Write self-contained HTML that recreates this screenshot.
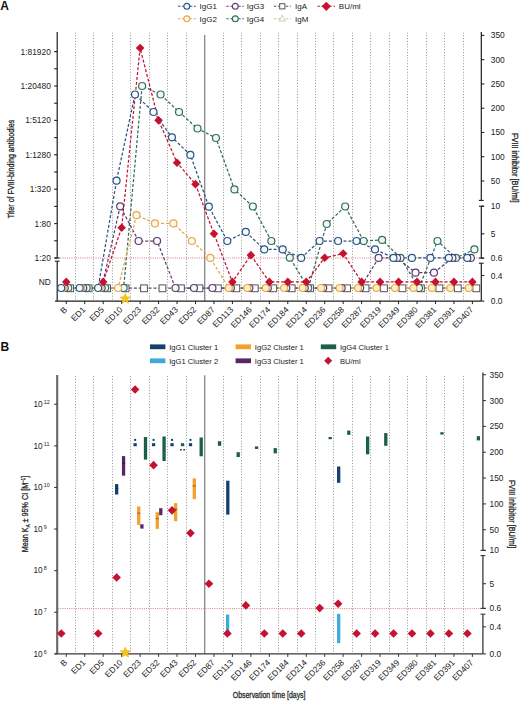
<!DOCTYPE html>
<html><head><meta charset="utf-8"><style>
html,body{margin:0;padding:0;background:#fff;}
body{width:520px;height:701px;overflow:hidden;}
svg{display:block;}
text{font-family:"Liberation Sans", sans-serif;}
</style></head><body>
<svg width="520" height="701" viewBox="0 0 520 701" font-family="Liberation Sans, sans-serif">
<rect width="520" height="701" fill="#fff"/>
<text x="0.30" y="10.30" font-size="12" text-anchor="start" fill="#111" font-weight="bold" >A</text>
<line x1="178.00" y1="6.30" x2="195.80" y2="6.30" stroke="#2b5480" stroke-width="1.1" stroke-dasharray="2.4,1.6" />
<circle cx="186.80" cy="6.30" r="2.95" fill="#f3f9fd" stroke="#2b5480" stroke-width="1.1"/>
<text x="199.50" y="9.20" font-size="8.0" text-anchor="start" fill="#222" >IgG1</text>
<line x1="178.00" y1="18.80" x2="195.80" y2="18.80" stroke="#e4a850" stroke-width="1.1" stroke-dasharray="2.4,1.6" />
<circle cx="186.80" cy="18.80" r="2.95" fill="#fff8ea" stroke="#e4a850" stroke-width="1.1"/>
<text x="199.50" y="21.70" font-size="8.0" text-anchor="start" fill="#222" >IgG2</text>
<line x1="226.30" y1="6.30" x2="243.80" y2="6.30" stroke="#5b3d70" stroke-width="1.1" stroke-dasharray="2.4,1.6" />
<circle cx="235.30" cy="6.30" r="2.95" fill="#fcf6fb" stroke="#5b3d70" stroke-width="1.1"/>
<text x="246.80" y="9.20" font-size="8.0" text-anchor="start" fill="#222" >IgG3</text>
<line x1="226.30" y1="18.80" x2="243.80" y2="18.80" stroke="#346b5c" stroke-width="1.1" stroke-dasharray="2.4,1.6" />
<circle cx="235.30" cy="18.80" r="2.95" fill="#eef9f4" stroke="#346b5c" stroke-width="1.1"/>
<text x="246.80" y="21.70" font-size="8.0" text-anchor="start" fill="#222" >IgG4</text>
<line x1="273.80" y1="6.30" x2="290.80" y2="6.30" stroke="#555555" stroke-width="1.1" stroke-dasharray="2.4,1.6" />
<rect x="279.70" y="3.70" width="5.2" height="5.2" fill="#fff" stroke="#555555" stroke-width="1.0"/>
<text x="295.00" y="9.20" font-size="8.0" text-anchor="start" fill="#222" >IgA</text>
<line x1="273.80" y1="18.80" x2="290.80" y2="18.80" stroke="#c8c896" stroke-width="1.1" stroke-dasharray="2.4,1.6" />
<polygon points="282.30,15.29 285.55,20.95 279.05,20.95" fill="#fff" stroke="#c8c896" stroke-width="0.9"/>
<text x="295.00" y="21.70" font-size="8.0" text-anchor="start" fill="#222" >IgM</text>
<line x1="317.50" y1="6.30" x2="335.00" y2="6.30" stroke="#c4122f" stroke-width="1.1" stroke-dasharray="2.4,1.6" />
<polygon points="326.30,1.70 330.90,6.30 326.30,10.90 321.70,6.30" fill="#c4122f"/>
<text x="338.80" y="9.20" font-size="8.0" text-anchor="start" fill="#222" >BU/ml</text>
<line x1="75.50" y1="32.50" x2="75.50" y2="301.10" stroke="#969696" stroke-width="1.0" stroke-dasharray="1,1.8" />
<line x1="93.50" y1="32.50" x2="93.50" y2="301.10" stroke="#969696" stroke-width="1.0" stroke-dasharray="1,1.8" />
<line x1="112.50" y1="32.50" x2="112.50" y2="301.10" stroke="#969696" stroke-width="1.0" stroke-dasharray="1,1.8" />
<line x1="130.50" y1="32.50" x2="130.50" y2="301.10" stroke="#969696" stroke-width="1.0" stroke-dasharray="1,1.8" />
<line x1="149.50" y1="32.50" x2="149.50" y2="301.10" stroke="#969696" stroke-width="1.0" stroke-dasharray="1,1.8" />
<line x1="167.50" y1="32.50" x2="167.50" y2="301.10" stroke="#969696" stroke-width="1.0" stroke-dasharray="1,1.8" />
<line x1="186.50" y1="32.50" x2="186.50" y2="301.10" stroke="#969696" stroke-width="1.0" stroke-dasharray="1,1.8" />
<line x1="204.72" y1="35.00" x2="204.72" y2="301.10" stroke="#7c7c7c" stroke-width="1.2" />
<line x1="223.50" y1="32.50" x2="223.50" y2="301.10" stroke="#969696" stroke-width="1.0" stroke-dasharray="1,1.8" />
<line x1="241.50" y1="32.50" x2="241.50" y2="301.10" stroke="#969696" stroke-width="1.0" stroke-dasharray="1,1.8" />
<line x1="260.50" y1="32.50" x2="260.50" y2="301.10" stroke="#969696" stroke-width="1.0" stroke-dasharray="1,1.8" />
<line x1="278.50" y1="32.50" x2="278.50" y2="301.10" stroke="#969696" stroke-width="1.0" stroke-dasharray="1,1.8" />
<line x1="297.50" y1="32.50" x2="297.50" y2="301.10" stroke="#969696" stroke-width="1.0" stroke-dasharray="1,1.8" />
<line x1="315.50" y1="32.50" x2="315.50" y2="301.10" stroke="#969696" stroke-width="1.0" stroke-dasharray="1,1.8" />
<line x1="333.50" y1="32.50" x2="333.50" y2="301.10" stroke="#969696" stroke-width="1.0" stroke-dasharray="1,1.8" />
<line x1="352.50" y1="32.50" x2="352.50" y2="301.10" stroke="#969696" stroke-width="1.0" stroke-dasharray="1,1.8" />
<line x1="370.50" y1="32.50" x2="370.50" y2="301.10" stroke="#969696" stroke-width="1.0" stroke-dasharray="1,1.8" />
<line x1="389.50" y1="32.50" x2="389.50" y2="301.10" stroke="#969696" stroke-width="1.0" stroke-dasharray="1,1.8" />
<line x1="407.50" y1="32.50" x2="407.50" y2="301.10" stroke="#969696" stroke-width="1.0" stroke-dasharray="1,1.8" />
<line x1="426.50" y1="32.50" x2="426.50" y2="301.10" stroke="#969696" stroke-width="1.0" stroke-dasharray="1,1.8" />
<line x1="444.50" y1="32.50" x2="444.50" y2="301.10" stroke="#969696" stroke-width="1.0" stroke-dasharray="1,1.8" />
<line x1="463.50" y1="32.50" x2="463.50" y2="301.10" stroke="#969696" stroke-width="1.0" stroke-dasharray="1,1.8" />
<line x1="58.20" y1="258.00" x2="481.30" y2="258.00" stroke="#dc6a7e" stroke-width="1.0" stroke-dasharray="0.9,1.3" />
<line x1="57.20" y1="32.00" x2="57.20" y2="258.00" stroke="#1e1e1e" stroke-width="1.2" />
<line x1="57.20" y1="261.20" x2="57.20" y2="301.10" stroke="#1e1e1e" stroke-width="1.2" />
<line x1="54.80" y1="258.00" x2="59.60" y2="258.00" stroke="#1e1e1e" stroke-width="1.1" />
<line x1="54.80" y1="261.20" x2="59.60" y2="261.20" stroke="#1e1e1e" stroke-width="1.1" />
<line x1="54.20" y1="258.00" x2="57.20" y2="258.00" stroke="#1e1e1e" stroke-width="1.1" />
<line x1="54.20" y1="240.80" x2="57.20" y2="240.80" stroke="#1e1e1e" stroke-width="1.1" />
<line x1="54.20" y1="223.60" x2="57.20" y2="223.60" stroke="#1e1e1e" stroke-width="1.1" />
<line x1="54.20" y1="206.40" x2="57.20" y2="206.40" stroke="#1e1e1e" stroke-width="1.1" />
<line x1="54.20" y1="189.20" x2="57.20" y2="189.20" stroke="#1e1e1e" stroke-width="1.1" />
<line x1="54.20" y1="172.00" x2="57.20" y2="172.00" stroke="#1e1e1e" stroke-width="1.1" />
<line x1="54.20" y1="154.80" x2="57.20" y2="154.80" stroke="#1e1e1e" stroke-width="1.1" />
<line x1="54.20" y1="137.60" x2="57.20" y2="137.60" stroke="#1e1e1e" stroke-width="1.1" />
<line x1="54.20" y1="120.40" x2="57.20" y2="120.40" stroke="#1e1e1e" stroke-width="1.1" />
<line x1="54.20" y1="103.20" x2="57.20" y2="103.20" stroke="#1e1e1e" stroke-width="1.1" />
<line x1="54.20" y1="86.00" x2="57.20" y2="86.00" stroke="#1e1e1e" stroke-width="1.1" />
<line x1="54.20" y1="68.80" x2="57.20" y2="68.80" stroke="#1e1e1e" stroke-width="1.1" />
<line x1="54.20" y1="51.60" x2="57.20" y2="51.60" stroke="#1e1e1e" stroke-width="1.1" />
<text x="50.80" y="54.60" font-size="8.4" text-anchor="end" fill="#222" >1:81920</text>
<text x="50.80" y="89.00" font-size="8.4" text-anchor="end" fill="#222" >1:20480</text>
<text x="50.80" y="123.40" font-size="8.4" text-anchor="end" fill="#222" >1:5120</text>
<text x="50.80" y="157.80" font-size="8.4" text-anchor="end" fill="#222" >1:1280</text>
<text x="50.80" y="192.20" font-size="8.4" text-anchor="end" fill="#222" >1:320</text>
<text x="50.80" y="226.60" font-size="8.4" text-anchor="end" fill="#222" >1:80</text>
<text x="50.80" y="261.00" font-size="8.4" text-anchor="end" fill="#222" >1:20</text>
<text x="50.80" y="285.00" font-size="8.4" text-anchor="end" fill="#222" >ND</text>
<text x="0" y="0" font-size="9" text-anchor="middle" fill="#222" transform="translate(13.6 169) rotate(-90)" textLength="98.6" lengthAdjust="spacingAndGlyphs" stroke="#2a2a2a" stroke-width="0.3">Titer of FVIII-binding antibodies</text>
<line x1="481.30" y1="32.00" x2="481.30" y2="200.40" stroke="#1e1e1e" stroke-width="1.2" />
<line x1="481.30" y1="206.20" x2="481.30" y2="258.10" stroke="#1e1e1e" stroke-width="1.2" />
<line x1="481.30" y1="263.20" x2="481.30" y2="301.10" stroke="#1e1e1e" stroke-width="1.2" />
<line x1="478.90" y1="200.40" x2="483.70" y2="200.40" stroke="#1e1e1e" stroke-width="1.1" />
<line x1="478.90" y1="206.20" x2="483.70" y2="206.20" stroke="#1e1e1e" stroke-width="1.1" />
<line x1="478.90" y1="258.10" x2="483.70" y2="258.10" stroke="#1e1e1e" stroke-width="1.1" />
<line x1="478.90" y1="263.20" x2="483.70" y2="263.20" stroke="#1e1e1e" stroke-width="1.1" />
<line x1="481.30" y1="35.40" x2="484.30" y2="35.40" stroke="#1e1e1e" stroke-width="1.1" />
<text x="490.80" y="38.40" font-size="8.4" text-anchor="start" fill="#222" >350</text>
<line x1="481.30" y1="59.66" x2="484.30" y2="59.66" stroke="#1e1e1e" stroke-width="1.1" />
<text x="490.80" y="62.66" font-size="8.4" text-anchor="start" fill="#222" >300</text>
<line x1="481.30" y1="83.93" x2="484.30" y2="83.93" stroke="#1e1e1e" stroke-width="1.1" />
<text x="490.80" y="86.93" font-size="8.4" text-anchor="start" fill="#222" >250</text>
<line x1="481.30" y1="108.19" x2="484.30" y2="108.19" stroke="#1e1e1e" stroke-width="1.1" />
<text x="490.80" y="111.19" font-size="8.4" text-anchor="start" fill="#222" >200</text>
<line x1="481.30" y1="132.46" x2="484.30" y2="132.46" stroke="#1e1e1e" stroke-width="1.1" />
<text x="490.80" y="135.46" font-size="8.4" text-anchor="start" fill="#222" >150</text>
<line x1="481.30" y1="156.72" x2="484.30" y2="156.72" stroke="#1e1e1e" stroke-width="1.1" />
<text x="490.80" y="159.72" font-size="8.4" text-anchor="start" fill="#222" >100</text>
<line x1="481.30" y1="180.99" x2="484.30" y2="180.99" stroke="#1e1e1e" stroke-width="1.1" />
<text x="490.80" y="183.99" font-size="8.4" text-anchor="start" fill="#222" >50</text>
<line x1="481.30" y1="206.20" x2="484.30" y2="206.20" stroke="#1e1e1e" stroke-width="1.1" />
<text x="490.80" y="209.20" font-size="8.4" text-anchor="start" fill="#222" >10</text>
<line x1="481.30" y1="233.81" x2="484.30" y2="233.81" stroke="#1e1e1e" stroke-width="1.1" />
<text x="490.80" y="236.81" font-size="8.4" text-anchor="start" fill="#222" >5</text>
<line x1="481.30" y1="258.10" x2="484.30" y2="258.10" stroke="#1e1e1e" stroke-width="1.1" />
<text x="490.80" y="261.10" font-size="8.4" text-anchor="start" fill="#222" >0.6</text>
<line x1="481.30" y1="275.50" x2="484.30" y2="275.50" stroke="#1e1e1e" stroke-width="1.1" />
<text x="490.80" y="278.50" font-size="8.4" text-anchor="start" fill="#222" >0.4</text>
<line x1="481.30" y1="301.10" x2="484.30" y2="301.10" stroke="#1e1e1e" stroke-width="1.1" />
<text x="490.80" y="304.10" font-size="8.4" text-anchor="start" fill="#222" >0.0</text>
<text x="0" y="0" font-size="8.8" text-anchor="middle" fill="#222" transform="translate(512.0 167.8) rotate(90)" textLength="69.7" lengthAdjust="spacingAndGlyphs" stroke="#2a2a2a" stroke-width="0.3">FVIII inhibitor [BU/ml]</text>
<line x1="55.00" y1="301.10" x2="481.30" y2="301.10" stroke="#1e1e1e" stroke-width="1.2" />
<line x1="66.27" y1="301.10" x2="66.27" y2="304.10" stroke="#1e1e1e" stroke-width="1.0" />
<line x1="84.73" y1="301.10" x2="84.73" y2="304.10" stroke="#1e1e1e" stroke-width="1.0" />
<line x1="103.19" y1="301.10" x2="103.19" y2="304.10" stroke="#1e1e1e" stroke-width="1.0" />
<line x1="121.65" y1="301.10" x2="121.65" y2="304.10" stroke="#1e1e1e" stroke-width="1.0" />
<line x1="140.11" y1="301.10" x2="140.11" y2="304.10" stroke="#1e1e1e" stroke-width="1.0" />
<line x1="158.57" y1="301.10" x2="158.57" y2="304.10" stroke="#1e1e1e" stroke-width="1.0" />
<line x1="177.03" y1="301.10" x2="177.03" y2="304.10" stroke="#1e1e1e" stroke-width="1.0" />
<line x1="195.49" y1="301.10" x2="195.49" y2="304.10" stroke="#1e1e1e" stroke-width="1.0" />
<line x1="213.95" y1="301.10" x2="213.95" y2="304.10" stroke="#1e1e1e" stroke-width="1.0" />
<line x1="232.41" y1="301.10" x2="232.41" y2="304.10" stroke="#1e1e1e" stroke-width="1.0" />
<line x1="250.87" y1="301.10" x2="250.87" y2="304.10" stroke="#1e1e1e" stroke-width="1.0" />
<line x1="269.33" y1="301.10" x2="269.33" y2="304.10" stroke="#1e1e1e" stroke-width="1.0" />
<line x1="287.79" y1="301.10" x2="287.79" y2="304.10" stroke="#1e1e1e" stroke-width="1.0" />
<line x1="306.25" y1="301.10" x2="306.25" y2="304.10" stroke="#1e1e1e" stroke-width="1.0" />
<line x1="324.71" y1="301.10" x2="324.71" y2="304.10" stroke="#1e1e1e" stroke-width="1.0" />
<line x1="343.17" y1="301.10" x2="343.17" y2="304.10" stroke="#1e1e1e" stroke-width="1.0" />
<line x1="361.63" y1="301.10" x2="361.63" y2="304.10" stroke="#1e1e1e" stroke-width="1.0" />
<line x1="380.09" y1="301.10" x2="380.09" y2="304.10" stroke="#1e1e1e" stroke-width="1.0" />
<line x1="398.55" y1="301.10" x2="398.55" y2="304.10" stroke="#1e1e1e" stroke-width="1.0" />
<line x1="417.01" y1="301.10" x2="417.01" y2="304.10" stroke="#1e1e1e" stroke-width="1.0" />
<line x1="435.47" y1="301.10" x2="435.47" y2="304.10" stroke="#1e1e1e" stroke-width="1.0" />
<line x1="453.93" y1="301.10" x2="453.93" y2="304.10" stroke="#1e1e1e" stroke-width="1.0" />
<line x1="472.39" y1="301.10" x2="472.39" y2="304.10" stroke="#1e1e1e" stroke-width="1.0" />
<text x="67.67" y="310.30" font-size="8.4" text-anchor="end" fill="#222" transform="rotate(-45 67.67 310.30)">B</text>
<text x="86.13" y="310.30" font-size="8.4" text-anchor="end" fill="#222" transform="rotate(-45 86.13 310.30)">ED1</text>
<text x="104.59" y="310.30" font-size="8.4" text-anchor="end" fill="#222" transform="rotate(-45 104.59 310.30)">ED5</text>
<text x="123.05" y="310.30" font-size="8.4" text-anchor="end" fill="#222" transform="rotate(-45 123.05 310.30)">ED10</text>
<text x="141.51" y="310.30" font-size="8.4" text-anchor="end" fill="#222" transform="rotate(-45 141.51 310.30)">ED23</text>
<text x="159.97" y="310.30" font-size="8.4" text-anchor="end" fill="#222" transform="rotate(-45 159.97 310.30)">ED32</text>
<text x="178.43" y="310.30" font-size="8.4" text-anchor="end" fill="#222" transform="rotate(-45 178.43 310.30)">ED43</text>
<text x="196.89" y="310.30" font-size="8.4" text-anchor="end" fill="#222" transform="rotate(-45 196.89 310.30)">ED52</text>
<text x="215.35" y="310.30" font-size="8.4" text-anchor="end" fill="#222" transform="rotate(-45 215.35 310.30)">ED87</text>
<text x="233.81" y="310.30" font-size="8.4" text-anchor="end" fill="#222" transform="rotate(-45 233.81 310.30)">ED113</text>
<text x="252.27" y="310.30" font-size="8.4" text-anchor="end" fill="#222" transform="rotate(-45 252.27 310.30)">ED146</text>
<text x="270.73" y="310.30" font-size="8.4" text-anchor="end" fill="#222" transform="rotate(-45 270.73 310.30)">ED174</text>
<text x="289.19" y="310.30" font-size="8.4" text-anchor="end" fill="#222" transform="rotate(-45 289.19 310.30)">ED184</text>
<text x="307.65" y="310.30" font-size="8.4" text-anchor="end" fill="#222" transform="rotate(-45 307.65 310.30)">ED214</text>
<text x="326.11" y="310.30" font-size="8.4" text-anchor="end" fill="#222" transform="rotate(-45 326.11 310.30)">ED236</text>
<text x="344.57" y="310.30" font-size="8.4" text-anchor="end" fill="#222" transform="rotate(-45 344.57 310.30)">ED258</text>
<text x="363.03" y="310.30" font-size="8.4" text-anchor="end" fill="#222" transform="rotate(-45 363.03 310.30)">ED287</text>
<text x="381.49" y="310.30" font-size="8.4" text-anchor="end" fill="#222" transform="rotate(-45 381.49 310.30)">ED319</text>
<text x="399.95" y="310.30" font-size="8.4" text-anchor="end" fill="#222" transform="rotate(-45 399.95 310.30)">ED349</text>
<text x="418.41" y="310.30" font-size="8.4" text-anchor="end" fill="#222" transform="rotate(-45 418.41 310.30)">ED380</text>
<text x="436.87" y="310.30" font-size="8.4" text-anchor="end" fill="#222" transform="rotate(-45 436.87 310.30)">ED381</text>
<text x="455.33" y="310.30" font-size="8.4" text-anchor="end" fill="#222" transform="rotate(-45 455.33 310.30)">ED391</text>
<text x="473.79" y="310.30" font-size="8.4" text-anchor="end" fill="#222" transform="rotate(-45 473.79 310.30)">ED407</text>
<polyline points="70.17,288.00 88.63,288.00 107.09,288.00 125.55,288.00 144.01,288.00 162.47,288.00 180.93,288.00 199.39,288.00 217.85,288.00 236.31,288.00 254.77,288.00 273.23,288.00 291.69,288.00 310.15,288.00 328.61,288.00 347.07,288.00 365.53,288.00 383.99,288.00 402.45,288.00 420.91,288.00 439.37,288.00 457.83,288.00 476.29,288.00" fill="none" stroke="#555555" stroke-width="1.25" stroke-dasharray="3,1.9"/>
<polyline points="68.27,288.00 86.73,288.00 105.19,288.00 123.65,288.00 142.11,86.00 160.57,94.50 179.03,112.00 197.49,128.50 215.95,138.00 234.41,189.40 252.87,206.50 271.33,241.00 289.79,257.70 308.25,288.00 326.71,224.00 345.17,206.50 363.63,241.00 382.09,239.90 400.55,257.90 419.01,288.00 437.47,241.00 455.93,257.90 474.39,249.40" fill="none" stroke="#346b5c" stroke-width="1.25" stroke-dasharray="3,1.9"/>
<polyline points="64.77,288.00 83.23,288.00 101.69,288.00 120.15,206.30 138.61,241.00 157.07,241.00 175.53,288.00 193.99,288.00 212.45,288.00 230.91,288.00 249.37,288.00 267.83,288.00 286.29,288.00 304.75,288.00 323.21,288.00 341.67,288.00 360.13,288.00 378.59,257.90 397.05,257.90 415.51,272.70 433.97,272.70 452.43,257.90 470.89,257.90" fill="none" stroke="#5b3d70" stroke-width="1.25" stroke-dasharray="3,1.9"/>
<polyline points="62.67,288.00 81.13,288.00 99.59,288.00 118.05,288.00 136.51,215.20 154.97,223.40 173.43,223.40 191.89,241.00 210.35,257.90 228.81,288.00 247.27,288.00 265.73,288.00 284.19,288.00 302.65,288.00 321.11,288.00 339.57,288.00 358.03,288.00 376.49,288.00 394.95,288.00 413.41,288.00 431.87,288.00 450.33,288.00 468.79,288.00" fill="none" stroke="#e4a850" stroke-width="1.25" stroke-dasharray="3,1.9"/>
<polyline points="61.17,288.00 79.63,288.00 98.09,288.00 116.55,180.70 135.01,94.50 153.47,112.00 171.93,137.30 190.39,154.90 208.85,206.70 227.31,241.00 245.77,231.90 264.23,249.40 282.69,249.40 301.15,257.90 319.61,241.00 338.07,241.00 356.53,241.00 374.99,249.40 393.45,257.90 411.91,257.90 430.37,257.90 448.83,257.90 467.29,257.90" fill="none" stroke="#2b5480" stroke-width="1.25" stroke-dasharray="3,1.9"/>
<polyline points="103.19,281.90 121.65,227.73 140.11,48.02 158.57,120.33 177.03,162.79 195.49,184.14 213.95,233.81 232.41,281.90 250.87,255.17 269.33,281.90 287.79,281.90 306.25,281.90 324.71,257.82 343.17,253.57 361.63,281.90 380.09,281.90 398.55,281.90 417.01,281.90 435.47,281.90 453.93,281.90 472.39,281.90" fill="none" stroke="#c4122f" stroke-width="1.25" stroke-dasharray="3,1.9"/>
<rect x="66.77" y="284.90" width="6.8" height="6.8" fill="#fff" stroke="#555555" stroke-width="1.0"/>
<rect x="85.23" y="284.90" width="6.8" height="6.8" fill="#fff" stroke="#555555" stroke-width="1.0"/>
<rect x="103.69" y="284.90" width="6.8" height="6.8" fill="#fff" stroke="#555555" stroke-width="1.0"/>
<rect x="122.15" y="284.90" width="6.8" height="6.8" fill="#fff" stroke="#555555" stroke-width="1.0"/>
<rect x="140.61" y="284.90" width="6.8" height="6.8" fill="#fff" stroke="#555555" stroke-width="1.0"/>
<rect x="159.07" y="284.90" width="6.8" height="6.8" fill="#fff" stroke="#555555" stroke-width="1.0"/>
<rect x="177.53" y="284.90" width="6.8" height="6.8" fill="#fff" stroke="#555555" stroke-width="1.0"/>
<rect x="195.99" y="284.90" width="6.8" height="6.8" fill="#fff" stroke="#555555" stroke-width="1.0"/>
<rect x="214.45" y="284.90" width="6.8" height="6.8" fill="#fff" stroke="#555555" stroke-width="1.0"/>
<rect x="232.91" y="284.90" width="6.8" height="6.8" fill="#fff" stroke="#555555" stroke-width="1.0"/>
<rect x="251.37" y="284.90" width="6.8" height="6.8" fill="#fff" stroke="#555555" stroke-width="1.0"/>
<rect x="269.83" y="284.90" width="6.8" height="6.8" fill="#fff" stroke="#555555" stroke-width="1.0"/>
<rect x="288.29" y="284.90" width="6.8" height="6.8" fill="#fff" stroke="#555555" stroke-width="1.0"/>
<rect x="306.75" y="284.90" width="6.8" height="6.8" fill="#fff" stroke="#555555" stroke-width="1.0"/>
<rect x="325.21" y="284.90" width="6.8" height="6.8" fill="#fff" stroke="#555555" stroke-width="1.0"/>
<rect x="343.67" y="284.90" width="6.8" height="6.8" fill="#fff" stroke="#555555" stroke-width="1.0"/>
<rect x="362.13" y="284.90" width="6.8" height="6.8" fill="#fff" stroke="#555555" stroke-width="1.0"/>
<rect x="380.59" y="284.90" width="6.8" height="6.8" fill="#fff" stroke="#555555" stroke-width="1.0"/>
<rect x="399.05" y="284.90" width="6.8" height="6.8" fill="#fff" stroke="#555555" stroke-width="1.0"/>
<rect x="417.51" y="284.90" width="6.8" height="6.8" fill="#fff" stroke="#555555" stroke-width="1.0"/>
<rect x="435.97" y="284.90" width="6.8" height="6.8" fill="#fff" stroke="#555555" stroke-width="1.0"/>
<rect x="454.43" y="284.90" width="6.8" height="6.8" fill="#fff" stroke="#555555" stroke-width="1.0"/>
<rect x="472.89" y="284.90" width="6.8" height="6.8" fill="#fff" stroke="#555555" stroke-width="1.0"/>
<circle cx="68.27" cy="288.00" r="3.5" fill="#eef9f4" stroke="#346b5c" stroke-width="1.2"/>
<circle cx="86.73" cy="288.00" r="3.5" fill="#eef9f4" stroke="#346b5c" stroke-width="1.2"/>
<circle cx="105.19" cy="288.00" r="3.5" fill="#eef9f4" stroke="#346b5c" stroke-width="1.2"/>
<circle cx="123.65" cy="288.00" r="3.5" fill="#eef9f4" stroke="#346b5c" stroke-width="1.2"/>
<circle cx="142.11" cy="86.00" r="3.5" fill="#eef9f4" stroke="#346b5c" stroke-width="1.2"/>
<circle cx="160.57" cy="94.50" r="3.5" fill="#eef9f4" stroke="#346b5c" stroke-width="1.2"/>
<circle cx="179.03" cy="112.00" r="3.5" fill="#eef9f4" stroke="#346b5c" stroke-width="1.2"/>
<circle cx="197.49" cy="128.50" r="3.5" fill="#eef9f4" stroke="#346b5c" stroke-width="1.2"/>
<circle cx="215.95" cy="138.00" r="3.5" fill="#eef9f4" stroke="#346b5c" stroke-width="1.2"/>
<circle cx="234.41" cy="189.40" r="3.5" fill="#eef9f4" stroke="#346b5c" stroke-width="1.2"/>
<circle cx="252.87" cy="206.50" r="3.5" fill="#eef9f4" stroke="#346b5c" stroke-width="1.2"/>
<circle cx="271.33" cy="241.00" r="3.5" fill="#eef9f4" stroke="#346b5c" stroke-width="1.2"/>
<circle cx="289.79" cy="257.70" r="3.5" fill="#eef9f4" stroke="#346b5c" stroke-width="1.2"/>
<circle cx="308.25" cy="288.00" r="3.5" fill="#eef9f4" stroke="#346b5c" stroke-width="1.2"/>
<circle cx="326.71" cy="224.00" r="3.5" fill="#eef9f4" stroke="#346b5c" stroke-width="1.2"/>
<circle cx="345.17" cy="206.50" r="3.5" fill="#eef9f4" stroke="#346b5c" stroke-width="1.2"/>
<circle cx="363.63" cy="241.00" r="3.5" fill="#eef9f4" stroke="#346b5c" stroke-width="1.2"/>
<circle cx="382.09" cy="239.90" r="3.5" fill="#eef9f4" stroke="#346b5c" stroke-width="1.2"/>
<circle cx="400.55" cy="257.90" r="3.5" fill="#eef9f4" stroke="#346b5c" stroke-width="1.2"/>
<circle cx="419.01" cy="288.00" r="3.5" fill="#eef9f4" stroke="#346b5c" stroke-width="1.2"/>
<circle cx="437.47" cy="241.00" r="3.5" fill="#eef9f4" stroke="#346b5c" stroke-width="1.2"/>
<circle cx="455.93" cy="257.90" r="3.5" fill="#eef9f4" stroke="#346b5c" stroke-width="1.2"/>
<circle cx="474.39" cy="249.40" r="3.5" fill="#eef9f4" stroke="#346b5c" stroke-width="1.2"/>
<circle cx="64.77" cy="288.00" r="3.5" fill="#fcf6fb" stroke="#5b3d70" stroke-width="1.2"/>
<circle cx="83.23" cy="288.00" r="3.5" fill="#fcf6fb" stroke="#5b3d70" stroke-width="1.2"/>
<circle cx="101.69" cy="288.00" r="3.5" fill="#fcf6fb" stroke="#5b3d70" stroke-width="1.2"/>
<circle cx="120.15" cy="206.30" r="3.5" fill="#fcf6fb" stroke="#5b3d70" stroke-width="1.2"/>
<circle cx="138.61" cy="241.00" r="3.5" fill="#fcf6fb" stroke="#5b3d70" stroke-width="1.2"/>
<circle cx="157.07" cy="241.00" r="3.5" fill="#fcf6fb" stroke="#5b3d70" stroke-width="1.2"/>
<circle cx="175.53" cy="288.00" r="3.5" fill="#fcf6fb" stroke="#5b3d70" stroke-width="1.2"/>
<circle cx="193.99" cy="288.00" r="3.5" fill="#fcf6fb" stroke="#5b3d70" stroke-width="1.2"/>
<circle cx="212.45" cy="288.00" r="3.5" fill="#fcf6fb" stroke="#5b3d70" stroke-width="1.2"/>
<circle cx="230.91" cy="288.00" r="3.5" fill="#fcf6fb" stroke="#5b3d70" stroke-width="1.2"/>
<circle cx="249.37" cy="288.00" r="3.5" fill="#fcf6fb" stroke="#5b3d70" stroke-width="1.2"/>
<circle cx="267.83" cy="288.00" r="3.5" fill="#fcf6fb" stroke="#5b3d70" stroke-width="1.2"/>
<circle cx="286.29" cy="288.00" r="3.5" fill="#fcf6fb" stroke="#5b3d70" stroke-width="1.2"/>
<circle cx="304.75" cy="288.00" r="3.5" fill="#fcf6fb" stroke="#5b3d70" stroke-width="1.2"/>
<circle cx="323.21" cy="288.00" r="3.5" fill="#fcf6fb" stroke="#5b3d70" stroke-width="1.2"/>
<circle cx="341.67" cy="288.00" r="3.5" fill="#fcf6fb" stroke="#5b3d70" stroke-width="1.2"/>
<circle cx="360.13" cy="288.00" r="3.5" fill="#fcf6fb" stroke="#5b3d70" stroke-width="1.2"/>
<circle cx="378.59" cy="257.90" r="3.5" fill="#fcf6fb" stroke="#5b3d70" stroke-width="1.2"/>
<circle cx="397.05" cy="257.90" r="3.5" fill="#fcf6fb" stroke="#5b3d70" stroke-width="1.2"/>
<circle cx="415.51" cy="272.70" r="3.5" fill="#fcf6fb" stroke="#5b3d70" stroke-width="1.2"/>
<circle cx="433.97" cy="272.70" r="3.5" fill="#fcf6fb" stroke="#5b3d70" stroke-width="1.2"/>
<circle cx="452.43" cy="257.90" r="3.5" fill="#fcf6fb" stroke="#5b3d70" stroke-width="1.2"/>
<circle cx="470.89" cy="257.90" r="3.5" fill="#fcf6fb" stroke="#5b3d70" stroke-width="1.2"/>
<circle cx="62.67" cy="288.00" r="3.5" fill="#fff8ea" stroke="#e4a850" stroke-width="1.2"/>
<circle cx="81.13" cy="288.00" r="3.5" fill="#fff8ea" stroke="#e4a850" stroke-width="1.2"/>
<circle cx="99.59" cy="288.00" r="3.5" fill="#fff8ea" stroke="#e4a850" stroke-width="1.2"/>
<circle cx="118.05" cy="288.00" r="3.5" fill="#fff8ea" stroke="#e4a850" stroke-width="1.2"/>
<circle cx="136.51" cy="215.20" r="3.5" fill="#fff8ea" stroke="#e4a850" stroke-width="1.2"/>
<circle cx="154.97" cy="223.40" r="3.5" fill="#fff8ea" stroke="#e4a850" stroke-width="1.2"/>
<circle cx="173.43" cy="223.40" r="3.5" fill="#fff8ea" stroke="#e4a850" stroke-width="1.2"/>
<circle cx="191.89" cy="241.00" r="3.5" fill="#fff8ea" stroke="#e4a850" stroke-width="1.2"/>
<circle cx="210.35" cy="257.90" r="3.5" fill="#fff8ea" stroke="#e4a850" stroke-width="1.2"/>
<circle cx="228.81" cy="288.00" r="3.5" fill="#fcefc2" stroke="#e4a850" stroke-width="1.2"/>
<circle cx="247.27" cy="288.00" r="3.5" fill="#fcefc2" stroke="#e4a850" stroke-width="1.2"/>
<circle cx="265.73" cy="288.00" r="3.5" fill="#fcefc2" stroke="#e4a850" stroke-width="1.2"/>
<circle cx="284.19" cy="288.00" r="3.5" fill="#fcefc2" stroke="#e4a850" stroke-width="1.2"/>
<circle cx="302.65" cy="288.00" r="3.5" fill="#fcefc2" stroke="#e4a850" stroke-width="1.2"/>
<circle cx="321.11" cy="288.00" r="3.5" fill="#fcefc2" stroke="#e4a850" stroke-width="1.2"/>
<circle cx="339.57" cy="288.00" r="3.5" fill="#fcefc2" stroke="#e4a850" stroke-width="1.2"/>
<circle cx="358.03" cy="288.00" r="3.5" fill="#fcefc2" stroke="#e4a850" stroke-width="1.2"/>
<circle cx="376.49" cy="288.00" r="3.5" fill="#fcefc2" stroke="#e4a850" stroke-width="1.2"/>
<circle cx="394.95" cy="288.00" r="3.5" fill="#fcefc2" stroke="#e4a850" stroke-width="1.2"/>
<circle cx="413.41" cy="288.00" r="3.5" fill="#fcefc2" stroke="#e4a850" stroke-width="1.2"/>
<circle cx="431.87" cy="288.00" r="3.5" fill="#fcefc2" stroke="#e4a850" stroke-width="1.2"/>
<circle cx="450.33" cy="288.00" r="3.5" fill="#fcefc2" stroke="#e4a850" stroke-width="1.2"/>
<circle cx="468.79" cy="288.00" r="3.5" fill="#fcefc2" stroke="#e4a850" stroke-width="1.2"/>
<circle cx="61.17" cy="288.00" r="3.5" fill="#f3f9fd" stroke="#2b5480" stroke-width="1.2"/>
<circle cx="79.63" cy="288.00" r="3.5" fill="#f3f9fd" stroke="#2b5480" stroke-width="1.2"/>
<circle cx="98.09" cy="288.00" r="3.5" fill="#f3f9fd" stroke="#2b5480" stroke-width="1.2"/>
<circle cx="116.55" cy="180.70" r="3.5" fill="#f3f9fd" stroke="#2b5480" stroke-width="1.2"/>
<circle cx="135.01" cy="94.50" r="3.5" fill="#f3f9fd" stroke="#2b5480" stroke-width="1.2"/>
<circle cx="153.47" cy="112.00" r="3.5" fill="#f3f9fd" stroke="#2b5480" stroke-width="1.2"/>
<circle cx="171.93" cy="137.30" r="3.5" fill="#f3f9fd" stroke="#2b5480" stroke-width="1.2"/>
<circle cx="190.39" cy="154.90" r="3.5" fill="#f3f9fd" stroke="#2b5480" stroke-width="1.2"/>
<circle cx="208.85" cy="206.70" r="3.5" fill="#f3f9fd" stroke="#2b5480" stroke-width="1.2"/>
<circle cx="227.31" cy="241.00" r="3.5" fill="#f3f9fd" stroke="#2b5480" stroke-width="1.2"/>
<circle cx="245.77" cy="231.90" r="3.5" fill="#f3f9fd" stroke="#2b5480" stroke-width="1.2"/>
<circle cx="264.23" cy="249.40" r="3.5" fill="#f3f9fd" stroke="#2b5480" stroke-width="1.2"/>
<circle cx="282.69" cy="249.40" r="3.5" fill="#f3f9fd" stroke="#2b5480" stroke-width="1.2"/>
<circle cx="301.15" cy="257.90" r="3.5" fill="#f3f9fd" stroke="#2b5480" stroke-width="1.2"/>
<circle cx="319.61" cy="241.00" r="3.5" fill="#f3f9fd" stroke="#2b5480" stroke-width="1.2"/>
<circle cx="338.07" cy="241.00" r="3.5" fill="#f3f9fd" stroke="#2b5480" stroke-width="1.2"/>
<circle cx="356.53" cy="241.00" r="3.5" fill="#f3f9fd" stroke="#2b5480" stroke-width="1.2"/>
<circle cx="374.99" cy="249.40" r="3.5" fill="#f3f9fd" stroke="#2b5480" stroke-width="1.2"/>
<circle cx="393.45" cy="257.90" r="3.5" fill="#f3f9fd" stroke="#2b5480" stroke-width="1.2"/>
<circle cx="411.91" cy="257.90" r="3.5" fill="#f3f9fd" stroke="#2b5480" stroke-width="1.2"/>
<circle cx="430.37" cy="257.90" r="3.5" fill="#f3f9fd" stroke="#2b5480" stroke-width="1.2"/>
<circle cx="448.83" cy="257.90" r="3.5" fill="#f3f9fd" stroke="#2b5480" stroke-width="1.2"/>
<circle cx="467.29" cy="257.90" r="3.5" fill="#f3f9fd" stroke="#2b5480" stroke-width="1.2"/>
<polygon points="66.27,277.60 70.57,281.90 66.27,286.20 61.97,281.90" fill="#c4122f"/>
<polygon points="103.19,277.60 107.49,281.90 103.19,286.20 98.89,281.90" fill="#c4122f"/>
<polygon points="121.65,223.43 125.95,227.73 121.65,232.03 117.35,227.73" fill="#c4122f"/>
<polygon points="140.11,43.72 144.41,48.02 140.11,52.32 135.81,48.02" fill="#c4122f"/>
<polygon points="158.57,116.03 162.87,120.33 158.57,124.63 154.27,120.33" fill="#c4122f"/>
<polygon points="177.03,158.49 181.33,162.79 177.03,167.09 172.73,162.79" fill="#c4122f"/>
<polygon points="195.49,179.84 199.79,184.14 195.49,188.44 191.19,184.14" fill="#c4122f"/>
<polygon points="213.95,229.51 218.25,233.81 213.95,238.11 209.65,233.81" fill="#c4122f"/>
<polygon points="232.41,277.60 236.71,281.90 232.41,286.20 228.11,281.90" fill="#c4122f"/>
<polygon points="250.87,250.87 255.17,255.17 250.87,259.47 246.57,255.17" fill="#c4122f"/>
<polygon points="269.33,277.60 273.63,281.90 269.33,286.20 265.03,281.90" fill="#c4122f"/>
<polygon points="287.79,277.60 292.09,281.90 287.79,286.20 283.49,281.90" fill="#c4122f"/>
<polygon points="306.25,277.60 310.55,281.90 306.25,286.20 301.95,281.90" fill="#c4122f"/>
<polygon points="324.71,253.52 329.01,257.82 324.71,262.12 320.41,257.82" fill="#c4122f"/>
<polygon points="343.17,249.27 347.47,253.57 343.17,257.87 338.87,253.57" fill="#c4122f"/>
<polygon points="361.63,277.60 365.93,281.90 361.63,286.20 357.33,281.90" fill="#c4122f"/>
<polygon points="380.09,277.60 384.39,281.90 380.09,286.20 375.79,281.90" fill="#c4122f"/>
<polygon points="398.55,277.60 402.85,281.90 398.55,286.20 394.25,281.90" fill="#c4122f"/>
<polygon points="417.01,277.60 421.31,281.90 417.01,286.20 412.71,281.90" fill="#c4122f"/>
<polygon points="435.47,277.60 439.77,281.90 435.47,286.20 431.17,281.90" fill="#c4122f"/>
<polygon points="453.93,277.60 458.23,281.90 453.93,286.20 449.63,281.90" fill="#c4122f"/>
<polygon points="472.39,277.60 476.69,281.90 472.39,286.20 468.09,281.90" fill="#c4122f"/>
<polygon points="125.20,293.10 126.71,296.72 130.62,297.04 127.64,299.59 128.55,303.41 125.20,301.37 121.85,303.41 122.76,299.59 119.78,297.04 123.69,296.72" fill="#f6c21c" stroke="#e8a800" stroke-width="0.4"/>
<text x="0.50" y="350.50" font-size="12" text-anchor="start" fill="#111" font-weight="bold" >B</text>
<rect x="150.00" y="344.40" width="15.4" height="4.8" fill="#173f6e"/>
<text x="169.20" y="349.60" font-size="7.6" text-anchor="start" fill="#222" >IgG1 Cluster 1</text>
<rect x="150.00" y="358.40" width="15.4" height="4.8" fill="#3fa9de"/>
<text x="169.20" y="363.60" font-size="7.6" text-anchor="start" fill="#222" >IgG1 Cluster 2</text>
<rect x="235.60" y="344.40" width="15.4" height="4.8" fill="#f3a12c"/>
<text x="254.80" y="349.60" font-size="7.6" text-anchor="start" fill="#222" >IgG2 Cluster 1</text>
<rect x="235.60" y="358.40" width="15.4" height="4.8" fill="#5a2469"/>
<text x="254.80" y="363.60" font-size="7.6" text-anchor="start" fill="#222" >IgG3 Cluster 1</text>
<rect x="320.80" y="344.40" width="15.4" height="4.8" fill="#1a5f4b"/>
<text x="340.00" y="349.60" font-size="7.6" text-anchor="start" fill="#222" >IgG4 Cluster 1</text>
<polygon points="328.20,356.80 332.20,360.80 328.20,364.80 324.20,360.80" fill="#c4122f"/>
<text x="339.90" y="363.60" font-size="7.6" text-anchor="start" fill="#222" >BU/ml</text>
<line x1="75.50" y1="376.20" x2="75.50" y2="653.90" stroke="#969696" stroke-width="1.0" stroke-dasharray="1,1.8" />
<line x1="93.50" y1="376.20" x2="93.50" y2="653.90" stroke="#969696" stroke-width="1.0" stroke-dasharray="1,1.8" />
<line x1="112.50" y1="376.20" x2="112.50" y2="653.90" stroke="#969696" stroke-width="1.0" stroke-dasharray="1,1.8" />
<line x1="130.50" y1="376.20" x2="130.50" y2="653.90" stroke="#969696" stroke-width="1.0" stroke-dasharray="1,1.8" />
<line x1="149.50" y1="376.20" x2="149.50" y2="653.90" stroke="#969696" stroke-width="1.0" stroke-dasharray="1,1.8" />
<line x1="167.50" y1="376.20" x2="167.50" y2="653.90" stroke="#969696" stroke-width="1.0" stroke-dasharray="1,1.8" />
<line x1="186.50" y1="376.20" x2="186.50" y2="653.90" stroke="#969696" stroke-width="1.0" stroke-dasharray="1,1.8" />
<line x1="204.72" y1="375.30" x2="204.72" y2="653.90" stroke="#7c7c7c" stroke-width="1.2" />
<line x1="223.50" y1="376.20" x2="223.50" y2="653.90" stroke="#969696" stroke-width="1.0" stroke-dasharray="1,1.8" />
<line x1="241.50" y1="376.20" x2="241.50" y2="653.90" stroke="#969696" stroke-width="1.0" stroke-dasharray="1,1.8" />
<line x1="260.50" y1="376.20" x2="260.50" y2="653.90" stroke="#969696" stroke-width="1.0" stroke-dasharray="1,1.8" />
<line x1="278.50" y1="376.20" x2="278.50" y2="653.90" stroke="#969696" stroke-width="1.0" stroke-dasharray="1,1.8" />
<line x1="297.50" y1="376.20" x2="297.50" y2="653.90" stroke="#969696" stroke-width="1.0" stroke-dasharray="1,1.8" />
<line x1="315.50" y1="376.20" x2="315.50" y2="653.90" stroke="#969696" stroke-width="1.0" stroke-dasharray="1,1.8" />
<line x1="333.50" y1="376.20" x2="333.50" y2="653.90" stroke="#969696" stroke-width="1.0" stroke-dasharray="1,1.8" />
<line x1="352.50" y1="376.20" x2="352.50" y2="653.90" stroke="#969696" stroke-width="1.0" stroke-dasharray="1,1.8" />
<line x1="370.50" y1="376.20" x2="370.50" y2="653.90" stroke="#969696" stroke-width="1.0" stroke-dasharray="1,1.8" />
<line x1="389.50" y1="376.20" x2="389.50" y2="653.90" stroke="#969696" stroke-width="1.0" stroke-dasharray="1,1.8" />
<line x1="407.50" y1="376.20" x2="407.50" y2="653.90" stroke="#969696" stroke-width="1.0" stroke-dasharray="1,1.8" />
<line x1="426.50" y1="376.20" x2="426.50" y2="653.90" stroke="#969696" stroke-width="1.0" stroke-dasharray="1,1.8" />
<line x1="444.50" y1="376.20" x2="444.50" y2="653.90" stroke="#969696" stroke-width="1.0" stroke-dasharray="1,1.8" />
<line x1="463.50" y1="376.20" x2="463.50" y2="653.90" stroke="#969696" stroke-width="1.0" stroke-dasharray="1,1.8" />
<line x1="58.20" y1="608.60" x2="482.90" y2="608.60" stroke="#dc6a7e" stroke-width="1.0" stroke-dasharray="0.9,1.3" />
<line x1="57.20" y1="375.00" x2="57.20" y2="653.90" stroke="#666666" stroke-width="2.1" />
<line x1="54.20" y1="404.25" x2="57.20" y2="404.25" stroke="#383838" stroke-width="1.1" />
<text x="42.60" y="406.95" font-size="8.2" text-anchor="end" fill="#222">10</text>
<text x="43.80" y="403.95" font-size="5.4" text-anchor="start" fill="#222">12</text>
<line x1="54.20" y1="445.85" x2="57.20" y2="445.85" stroke="#383838" stroke-width="1.1" />
<text x="42.60" y="448.55" font-size="8.2" text-anchor="end" fill="#222">10</text>
<text x="43.80" y="445.55" font-size="5.4" text-anchor="start" fill="#222">11</text>
<line x1="54.20" y1="487.45" x2="57.20" y2="487.45" stroke="#383838" stroke-width="1.1" />
<text x="42.60" y="490.15" font-size="8.2" text-anchor="end" fill="#222">10</text>
<text x="43.80" y="487.15" font-size="5.4" text-anchor="start" fill="#222">10</text>
<line x1="54.20" y1="529.05" x2="57.20" y2="529.05" stroke="#383838" stroke-width="1.1" />
<text x="42.60" y="531.75" font-size="8.2" text-anchor="end" fill="#222">10</text>
<text x="43.80" y="528.75" font-size="5.4" text-anchor="start" fill="#222">9</text>
<line x1="54.20" y1="570.65" x2="57.20" y2="570.65" stroke="#383838" stroke-width="1.1" />
<text x="42.60" y="573.35" font-size="8.2" text-anchor="end" fill="#222">10</text>
<text x="43.80" y="570.35" font-size="5.4" text-anchor="start" fill="#222">8</text>
<line x1="54.20" y1="612.25" x2="57.20" y2="612.25" stroke="#383838" stroke-width="1.1" />
<text x="42.60" y="614.95" font-size="8.2" text-anchor="end" fill="#222">10</text>
<text x="43.80" y="611.95" font-size="5.4" text-anchor="start" fill="#222">7</text>
<line x1="54.20" y1="653.85" x2="57.20" y2="653.85" stroke="#383838" stroke-width="1.1" />
<text x="42.60" y="656.55" font-size="8.2" text-anchor="end" fill="#222">10</text>
<text x="43.80" y="653.55" font-size="5.4" text-anchor="start" fill="#222">6</text>
<g transform="translate(28.0 514.0) rotate(-90)"><text x="0" y="0" font-size="9" text-anchor="middle" fill="#222" textLength="76.4" lengthAdjust="spacingAndGlyphs" stroke="#2a2a2a" stroke-width="0.3">Mean K<tspan font-size="5.5" dy="1.6">A</tspan><tspan dy="-1.6"> ± 95% CI [M</tspan><tspan font-size="5.5" dy="-2.8">−1</tspan><tspan dy="2.8">]</tspan></text></g>
<line x1="482.90" y1="372.50" x2="482.90" y2="550.40" stroke="#383838" stroke-width="1.3" />
<line x1="482.90" y1="555.60" x2="482.90" y2="608.40" stroke="#383838" stroke-width="1.3" />
<line x1="482.90" y1="614.20" x2="482.90" y2="653.90" stroke="#383838" stroke-width="1.3" />
<line x1="480.50" y1="550.40" x2="485.30" y2="550.40" stroke="#383838" stroke-width="1.1" />
<line x1="480.50" y1="555.60" x2="485.30" y2="555.60" stroke="#383838" stroke-width="1.1" />
<line x1="480.50" y1="608.40" x2="485.30" y2="608.40" stroke="#383838" stroke-width="1.1" />
<line x1="480.50" y1="614.20" x2="485.30" y2="614.20" stroke="#383838" stroke-width="1.1" />
<line x1="482.90" y1="374.72" x2="485.90" y2="374.72" stroke="#383838" stroke-width="1.1" />
<text x="489.50" y="377.72" font-size="8.4" text-anchor="start" fill="#222" >350</text>
<line x1="482.90" y1="400.56" x2="485.90" y2="400.56" stroke="#383838" stroke-width="1.1" />
<text x="489.50" y="403.56" font-size="8.4" text-anchor="start" fill="#222" >300</text>
<line x1="482.90" y1="426.39" x2="485.90" y2="426.39" stroke="#383838" stroke-width="1.1" />
<text x="489.50" y="429.39" font-size="8.4" text-anchor="start" fill="#222" >250</text>
<line x1="482.90" y1="452.23" x2="485.90" y2="452.23" stroke="#383838" stroke-width="1.1" />
<text x="489.50" y="455.23" font-size="8.4" text-anchor="start" fill="#222" >200</text>
<line x1="482.90" y1="478.06" x2="485.90" y2="478.06" stroke="#383838" stroke-width="1.1" />
<text x="489.50" y="481.06" font-size="8.4" text-anchor="start" fill="#222" >150</text>
<line x1="482.90" y1="503.90" x2="485.90" y2="503.90" stroke="#383838" stroke-width="1.1" />
<text x="489.50" y="506.90" font-size="8.4" text-anchor="start" fill="#222" >100</text>
<line x1="482.90" y1="529.73" x2="485.90" y2="529.73" stroke="#383838" stroke-width="1.1" />
<text x="489.50" y="532.73" font-size="8.4" text-anchor="start" fill="#222" >50</text>
<line x1="482.90" y1="550.40" x2="485.90" y2="550.40" stroke="#383838" stroke-width="1.1" />
<text x="489.50" y="553.40" font-size="8.4" text-anchor="start" fill="#222" >10</text>
<line x1="482.90" y1="583.69" x2="485.90" y2="583.69" stroke="#383838" stroke-width="1.1" />
<text x="489.50" y="586.69" font-size="8.4" text-anchor="start" fill="#222" >5</text>
<line x1="482.90" y1="608.40" x2="485.90" y2="608.40" stroke="#383838" stroke-width="1.1" />
<text x="489.50" y="611.40" font-size="8.4" text-anchor="start" fill="#222" >0.6</text>
<line x1="482.90" y1="626.80" x2="485.90" y2="626.80" stroke="#383838" stroke-width="1.1" />
<text x="489.50" y="629.80" font-size="8.4" text-anchor="start" fill="#222" >0.4</text>
<line x1="482.90" y1="653.90" x2="485.90" y2="653.90" stroke="#383838" stroke-width="1.1" />
<text x="489.50" y="656.90" font-size="8.4" text-anchor="start" fill="#222" >0.0</text>
<text x="0" y="0" font-size="8.8" text-anchor="middle" fill="#222" transform="translate(509.3 514.2) rotate(90)" textLength="68.3" lengthAdjust="spacingAndGlyphs" stroke="#2a2a2a" stroke-width="0.3">FVIII inhibitor [BU/ml]</text>
<line x1="55.00" y1="653.90" x2="482.90" y2="653.90" stroke="#383838" stroke-width="1.4" />
<line x1="66.27" y1="653.90" x2="66.27" y2="656.90" stroke="#383838" stroke-width="1.0" />
<line x1="84.73" y1="653.90" x2="84.73" y2="656.90" stroke="#383838" stroke-width="1.0" />
<line x1="103.19" y1="653.90" x2="103.19" y2="656.90" stroke="#383838" stroke-width="1.0" />
<line x1="121.65" y1="653.90" x2="121.65" y2="656.90" stroke="#383838" stroke-width="1.0" />
<line x1="140.11" y1="653.90" x2="140.11" y2="656.90" stroke="#383838" stroke-width="1.0" />
<line x1="158.57" y1="653.90" x2="158.57" y2="656.90" stroke="#383838" stroke-width="1.0" />
<line x1="177.03" y1="653.90" x2="177.03" y2="656.90" stroke="#383838" stroke-width="1.0" />
<line x1="195.49" y1="653.90" x2="195.49" y2="656.90" stroke="#383838" stroke-width="1.0" />
<line x1="213.95" y1="653.90" x2="213.95" y2="656.90" stroke="#383838" stroke-width="1.0" />
<line x1="232.41" y1="653.90" x2="232.41" y2="656.90" stroke="#383838" stroke-width="1.0" />
<line x1="250.87" y1="653.90" x2="250.87" y2="656.90" stroke="#383838" stroke-width="1.0" />
<line x1="269.33" y1="653.90" x2="269.33" y2="656.90" stroke="#383838" stroke-width="1.0" />
<line x1="287.79" y1="653.90" x2="287.79" y2="656.90" stroke="#383838" stroke-width="1.0" />
<line x1="306.25" y1="653.90" x2="306.25" y2="656.90" stroke="#383838" stroke-width="1.0" />
<line x1="324.71" y1="653.90" x2="324.71" y2="656.90" stroke="#383838" stroke-width="1.0" />
<line x1="343.17" y1="653.90" x2="343.17" y2="656.90" stroke="#383838" stroke-width="1.0" />
<line x1="361.63" y1="653.90" x2="361.63" y2="656.90" stroke="#383838" stroke-width="1.0" />
<line x1="380.09" y1="653.90" x2="380.09" y2="656.90" stroke="#383838" stroke-width="1.0" />
<line x1="398.55" y1="653.90" x2="398.55" y2="656.90" stroke="#383838" stroke-width="1.0" />
<line x1="417.01" y1="653.90" x2="417.01" y2="656.90" stroke="#383838" stroke-width="1.0" />
<line x1="435.47" y1="653.90" x2="435.47" y2="656.90" stroke="#383838" stroke-width="1.0" />
<line x1="453.93" y1="653.90" x2="453.93" y2="656.90" stroke="#383838" stroke-width="1.0" />
<line x1="472.39" y1="653.90" x2="472.39" y2="656.90" stroke="#383838" stroke-width="1.0" />
<text x="67.67" y="663.10" font-size="8.4" text-anchor="end" fill="#222" transform="rotate(-45 67.67 663.10)">B</text>
<text x="86.13" y="663.10" font-size="8.4" text-anchor="end" fill="#222" transform="rotate(-45 86.13 663.10)">ED1</text>
<text x="104.59" y="663.10" font-size="8.4" text-anchor="end" fill="#222" transform="rotate(-45 104.59 663.10)">ED5</text>
<text x="123.05" y="663.10" font-size="8.4" text-anchor="end" fill="#222" transform="rotate(-45 123.05 663.10)">ED10</text>
<text x="141.51" y="663.10" font-size="8.4" text-anchor="end" fill="#222" transform="rotate(-45 141.51 663.10)">ED23</text>
<text x="159.97" y="663.10" font-size="8.4" text-anchor="end" fill="#222" transform="rotate(-45 159.97 663.10)">ED32</text>
<text x="178.43" y="663.10" font-size="8.4" text-anchor="end" fill="#222" transform="rotate(-45 178.43 663.10)">ED43</text>
<text x="196.89" y="663.10" font-size="8.4" text-anchor="end" fill="#222" transform="rotate(-45 196.89 663.10)">ED52</text>
<text x="215.35" y="663.10" font-size="8.4" text-anchor="end" fill="#222" transform="rotate(-45 215.35 663.10)">ED87</text>
<text x="233.81" y="663.10" font-size="8.4" text-anchor="end" fill="#222" transform="rotate(-45 233.81 663.10)">ED113</text>
<text x="252.27" y="663.10" font-size="8.4" text-anchor="end" fill="#222" transform="rotate(-45 252.27 663.10)">ED146</text>
<text x="270.73" y="663.10" font-size="8.4" text-anchor="end" fill="#222" transform="rotate(-45 270.73 663.10)">ED174</text>
<text x="289.19" y="663.10" font-size="8.4" text-anchor="end" fill="#222" transform="rotate(-45 289.19 663.10)">ED184</text>
<text x="307.65" y="663.10" font-size="8.4" text-anchor="end" fill="#222" transform="rotate(-45 307.65 663.10)">ED214</text>
<text x="326.11" y="663.10" font-size="8.4" text-anchor="end" fill="#222" transform="rotate(-45 326.11 663.10)">ED236</text>
<text x="344.57" y="663.10" font-size="8.4" text-anchor="end" fill="#222" transform="rotate(-45 344.57 663.10)">ED258</text>
<text x="363.03" y="663.10" font-size="8.4" text-anchor="end" fill="#222" transform="rotate(-45 363.03 663.10)">ED287</text>
<text x="381.49" y="663.10" font-size="8.4" text-anchor="end" fill="#222" transform="rotate(-45 381.49 663.10)">ED319</text>
<text x="399.95" y="663.10" font-size="8.4" text-anchor="end" fill="#222" transform="rotate(-45 399.95 663.10)">ED349</text>
<text x="418.41" y="663.10" font-size="8.4" text-anchor="end" fill="#222" transform="rotate(-45 418.41 663.10)">ED380</text>
<text x="436.87" y="663.10" font-size="8.4" text-anchor="end" fill="#222" transform="rotate(-45 436.87 663.10)">ED381</text>
<text x="455.33" y="663.10" font-size="8.4" text-anchor="end" fill="#222" transform="rotate(-45 455.33 663.10)">ED391</text>
<text x="473.79" y="663.10" font-size="8.4" text-anchor="end" fill="#222" transform="rotate(-45 473.79 663.10)">ED407</text>
<text x="269.15" y="698.2" font-size="9.4" text-anchor="middle" fill="#222" textLength="72.7" lengthAdjust="spacingAndGlyphs" stroke="#2a2a2a" stroke-width="0.3">Observation time [days]</text>
<rect x="115.00" y="484.10" width="3.3" height="10.40" fill="#173f6e"/>
<rect x="121.90" y="456.10" width="3.3" height="19.60" fill="#5a2469"/>
<rect x="133.46" y="443.20" width="3.3" height="3.00" fill="#173f6e"/>
<rect x="143.86" y="437.00" width="3.3" height="22.60" fill="#1a5f4b"/>
<rect x="137.06" y="506.40" width="3.3" height="18.50" fill="#f3a12c"/>
<rect x="140.26" y="524.30" width="3.3" height="4.30" fill="#5a2469"/>
<rect x="151.92" y="443.20" width="3.3" height="3.00" fill="#173f6e"/>
<rect x="162.42" y="436.50" width="3.3" height="24.50" fill="#1a5f4b"/>
<rect x="155.62" y="512.20" width="3.3" height="16.70" fill="#f3a12c"/>
<rect x="159.12" y="508.20" width="3.3" height="7.00" fill="#5a2469"/>
<rect x="170.38" y="443.20" width="3.3" height="3.00" fill="#173f6e"/>
<rect x="180.88" y="443.20" width="3.3" height="3.00" fill="#1a5f4b"/>
<rect x="173.98" y="503.10" width="3.3" height="18.10" fill="#f3a12c"/>
<rect x="188.84" y="443.20" width="3.3" height="3.00" fill="#173f6e"/>
<rect x="199.54" y="437.50" width="3.3" height="18.80" fill="#1a5f4b"/>
<rect x="192.64" y="478.40" width="3.3" height="20.70" fill="#f3a12c"/>
<rect x="217.90" y="441.20" width="3.3" height="4.60" fill="#1a5f4b"/>
<rect x="236.56" y="452.20" width="3.3" height="4.80" fill="#1a5f4b"/>
<rect x="226.16" y="480.70" width="3.3" height="33.90" fill="#173f6e"/>
<rect x="225.96" y="614.60" width="3.3" height="18.40" fill="#3fa9de"/>
<rect x="254.92" y="446.40" width="3.3" height="2.60" fill="#1a5f4b"/>
<rect x="273.58" y="448.10" width="3.3" height="5.30" fill="#1a5f4b"/>
<rect x="328.56" y="437.00" width="3.3" height="2.20" fill="#1a5f4b"/>
<rect x="347.12" y="430.60" width="3.3" height="4.20" fill="#1a5f4b"/>
<rect x="337.02" y="466.50" width="3.3" height="16.30" fill="#173f6e"/>
<rect x="337.02" y="613.90" width="3.3" height="29.20" fill="#3fa9de"/>
<rect x="365.98" y="436.50" width="3.3" height="17.80" fill="#1a5f4b"/>
<rect x="384.14" y="433.10" width="3.3" height="12.70" fill="#1a5f4b"/>
<rect x="440.32" y="432.20" width="3.3" height="2.40" fill="#1a5f4b"/>
<rect x="476.74" y="436.20" width="3.3" height="4.20" fill="#1a5f4b"/>
<rect x="134.11" y="438.9" width="2.0" height="2.0" fill="#173f6e"/>
<rect x="152.57" y="438.9" width="2.0" height="2.0" fill="#173f6e"/>
<rect x="171.03" y="438.9" width="2.0" height="2.0" fill="#173f6e"/>
<rect x="189.49" y="438.9" width="2.0" height="2.0" fill="#173f6e"/>
<rect x="137.16" y="512.60" width="3.1" height="1.2" fill="#a8641c"/>
<rect x="155.72" y="518.00" width="3.1" height="1.2" fill="#a8641c"/>
<rect x="174.08" y="508.70" width="3.1" height="1.2" fill="#a8641c"/>
<rect x="192.74" y="485.30" width="3.1" height="1.2" fill="#a8641c"/>
<rect x="122.00" y="462.60" width="3.1" height="1.2" fill="#3a1245"/>
<rect x="115.10" y="487.90" width="3.1" height="1.2" fill="#0f2c50"/>
<rect x="180.13" y="449.0" width="1.6" height="1.5" fill="#333"/>
<rect x="183.33" y="449.0" width="1.6" height="1.5" fill="#333"/>
<polygon points="61.27,629.27 65.57,633.57 61.27,637.87 56.97,633.57" fill="#c4122f"/>
<polygon points="98.19,629.27 102.49,633.57 98.19,637.87 93.89,633.57" fill="#c4122f"/>
<polygon points="116.65,573.21 120.95,577.51 116.65,581.81 112.35,577.51" fill="#c4122f"/>
<polygon points="135.11,385.15 139.41,389.45 135.11,393.75 130.81,389.45" fill="#c4122f"/>
<polygon points="153.57,460.84 157.87,465.14 153.57,469.44 149.27,465.14" fill="#c4122f"/>
<polygon points="172.03,506.06 176.33,510.36 172.03,514.66 167.73,510.36" fill="#c4122f"/>
<polygon points="190.49,528.79 194.79,533.09 190.49,537.39 186.19,533.09" fill="#c4122f"/>
<polygon points="208.95,579.39 213.25,583.69 208.95,587.99 204.65,583.69" fill="#c4122f"/>
<polygon points="227.41,629.27 231.71,633.57 227.41,637.87 223.11,633.57" fill="#c4122f"/>
<polygon points="245.87,601.12 250.17,605.42 245.87,609.72 241.57,605.42" fill="#c4122f"/>
<polygon points="264.33,629.27 268.63,633.57 264.33,637.87 260.03,633.57" fill="#c4122f"/>
<polygon points="282.79,629.27 287.09,633.57 282.79,637.87 278.49,633.57" fill="#c4122f"/>
<polygon points="301.25,629.27 305.55,633.57 301.25,637.87 296.95,633.57" fill="#c4122f"/>
<polygon points="319.71,603.82 324.01,608.12 319.71,612.42 315.41,608.12" fill="#c4122f"/>
<polygon points="338.17,599.49 342.47,603.79 338.17,608.09 333.87,603.79" fill="#c4122f"/>
<polygon points="356.63,629.27 360.93,633.57 356.63,637.87 352.33,633.57" fill="#c4122f"/>
<polygon points="375.09,629.27 379.39,633.57 375.09,637.87 370.79,633.57" fill="#c4122f"/>
<polygon points="393.55,629.27 397.85,633.57 393.55,637.87 389.25,633.57" fill="#c4122f"/>
<polygon points="412.01,629.27 416.31,633.57 412.01,637.87 407.71,633.57" fill="#c4122f"/>
<polygon points="430.47,629.27 434.77,633.57 430.47,637.87 426.17,633.57" fill="#c4122f"/>
<polygon points="448.93,629.27 453.23,633.57 448.93,637.87 444.63,633.57" fill="#c4122f"/>
<polygon points="467.39,629.27 471.69,633.57 467.39,637.87 463.09,633.57" fill="#c4122f"/>
<polygon points="125.30,646.90 126.81,650.52 130.72,650.84 127.74,653.39 128.65,657.21 125.30,655.17 121.95,657.21 122.86,653.39 119.88,650.84 123.79,650.52" fill="#f6c21c" stroke="#e8a800" stroke-width="0.4"/>
</svg>
</body></html>
